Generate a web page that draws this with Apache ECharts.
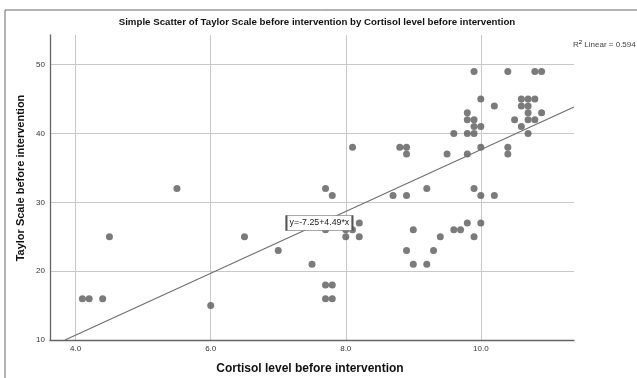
<!DOCTYPE html>
<html><head><meta charset="utf-8">
<script src="https://cdn.jsdelivr.net/npm/echarts@6/dist/echarts.min.js"></script>
<style>html,body{margin:0;padding:0;background:#fff}#c{width:637px;height:378px}</style>
</head><body><div id="c"></div>
<script>
// Cortisol level before intervention (x) and Taylor Scale before intervention (y)
const cortisol = [4.1,4.2,4.4,4.5,5.5,6.0,6.5,7.0,7.5,
  7.7,7.8,7.7,7.7,7.8,7.7,7.8,
  8.0,8.0,8.1,8.2,8.2,8.1,
  8.7,8.9,8.8,8.9,8.9,8.9,9.0,9.0,9.2,9.2,
  9.3,9.4,9.5,9.6,9.7,9.8,9.9,9.9,10.0,10.0,10.2,
  9.6,9.8,9.9,9.9,10.0,9.8,9.9,9.8,9.8,10.0,10.0,9.9,
  10.2,10.4,10.4,10.4,10.5,10.6,10.7,10.8,10.6,10.7,10.7,10.9,10.7,10.8,10.6,10.7,10.8,10.9];
const taylor = [16,16,16,25,32,15,25,23,21,
  32,31,26,18,18,16,16,
  25,26,26,27,25,38,
  31,31,38,38,37,23,26,21,21,32,
  23,25,37,26,26,27,25,32,31,27,31,
  40,40,40,41,41,42,42,43,37,38,45,49,
  44,49,38,37,42,45,45,45,44,44,43,43,42,42,41,40,49,49];
const xTicks = [4, 6, 8, 10];
const yTicks = [10, 20, 30, 40, 50];
const intercept = -7.25;
const slope = 4.49;
const rSquared = 0.594;
const xMin = 3.62, xMax = 11.38, yMin = 10, yMax = 54.3;

const points = cortisol.map((x, i) => [x, taylor[i]]);
const xStart = (yMin - intercept) / slope;
const fitLine = [[xStart, intercept + slope * xStart], [xMax, intercept + slope * xMax]];
const eqText = 'y=' + intercept.toFixed(2) + '+' + slope.toFixed(2) + '*x';

const FF = '"Liberation Sans", Arial, sans-serif';
const chart = echarts.init(document.getElementById('c'), null, {renderer: 'canvas'});
chart.setOption({
  backgroundColor: '#fff',
  animation: false,
  grid: {left: 50, right: 63, top: 35, bottom: 38},
  xAxis: {
    type: 'value', min: xMin, max: xMax,
    axisLine: {show: true, lineStyle: {color: '#666', width: 1.3}},
    axisTick: {show: false, customValues: xTicks},
    axisLabel: {customValues: xTicks, formatter: v => v.toFixed(1), fontSize: 8, color: '#333', fontFamily: FF, margin: 5},
    splitLine: {show: true, lineStyle: {color: '#c8c8c8', width: 1}}
  },
  yAxis: {
    type: 'value', min: yMin, max: yMax,
    axisLine: {show: true, lineStyle: {color: '#666', width: 1.3}},
    axisTick: {show: false, customValues: yTicks},
    axisLabel: {customValues: yTicks, fontSize: 8, color: '#333', fontFamily: FF, margin: 5},
    splitLine: {show: true, lineStyle: {color: '#c8c8c8', width: 1}}
  },
  series: [
    {
      type: 'scatter', data: points, symbolSize: 7,
      itemStyle: {color: '#5a5a5a'}, z: 3
    },
    {
      type: 'line', data: fitLine, symbol: 'none', z: 4,
      lineStyle: {color: '#707070', width: 1.2},
      markPoint: {
        silent: true,
        data: [{
          coord: [7.61, 27], symbol: 'rect', symbolSize: [66, 15],
          itemStyle: {color: '#fff', borderColor: '#555', borderWidth: 1},
          label: {show: true, position: 'inside', formatter: eqText, fontSize: 8.8, color: '#222', fontFamily: FF}
        }]
      }
    }
  ],
  graphic: [
    {type: 'rect', shape: {x: 5, y: 10, width: 700, height: 420}, style: {fill: 'none', stroke: '#666', lineWidth: 1}, z: -10},
    {type: 'text', x: 317, y: 22, style: {text: 'Simple Scatter of Taylor Scale before intervention by Cortisol level before intervention', fontSize: 9.7, fontWeight: 'bold', fontFamily: FF, fill: '#111', align: 'center', verticalAlign: 'middle'}},
    {type: 'text', x: 310, y: 369, style: {text: 'Cortisol level before intervention', fontSize: 12, fontWeight: 'bold', fontFamily: FF, fill: '#111', align: 'center', verticalAlign: 'middle'}},
    {type: 'text', x: 21, y: 178, rotation: Math.PI / 2, style: {text: 'Taylor Scale before intervention', fontSize: 11, fontWeight: 'bold', fontFamily: FF, fill: '#111', align: 'center', verticalAlign: 'middle'}},
    {type: 'text', x: 573, y: 45, style: {
      text: '{r|R}{s|2}{r| Linear = ' + rSquared.toFixed(3) + '}',
      rich: {r: {fontSize: 8, fontFamily: FF, fill: '#444', color: '#444'}, s: {fontSize: 6, fontFamily: FF, color: '#444', padding: [0, 0, 5, 0]}},
      verticalAlign: 'middle'
    }}
  ]
});
</script>
</body></html>
